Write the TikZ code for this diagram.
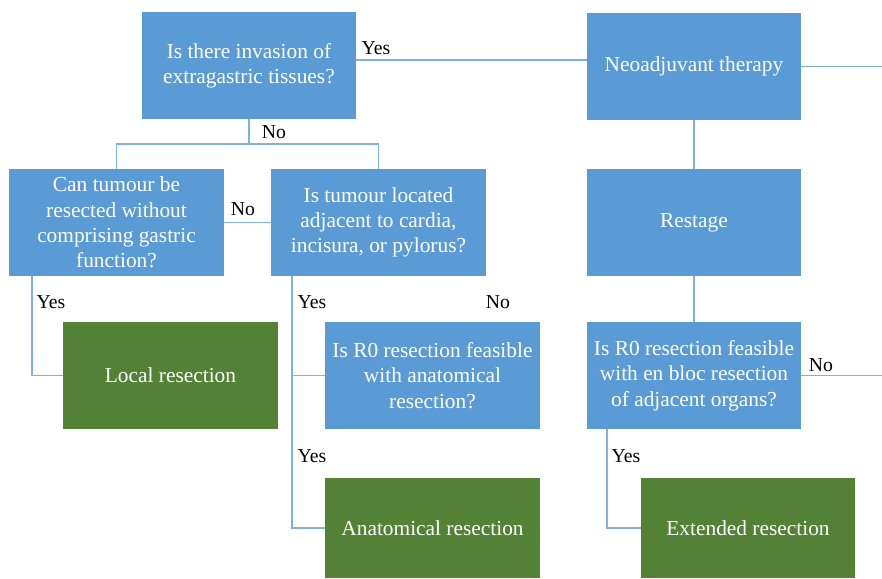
\documentclass[tikz,border=0pt]{standalone}
\usepackage{fontspec}
\setmainfont{Liberation Serif}
\usetikzlibrary{positioning}
\definecolor{boxblue}{HTML}{5B9BD5}
\definecolor{boxgreen}{HTML}{538135}
\definecolor{lineblue}{HTML}{7EB1E1}

\begin{document}
\begin{tikzpicture}[
        x=0.025cm, y=-0.025cm,
        question/.style={rectangle, fill=boxblue, text=white, align=center, inner sep=0pt,
            minimum width=5.35cm, minimum height=2.675cm, font=\fontsize{15.2}{18}\selectfont},
        outcome/.style={rectangle, fill=boxgreen, text=white, align=center, inner sep=0pt,
            minimum width=5.35cm, minimum height=2.675cm, font=\fontsize{15.2}{18}\selectfont},
        link/.style={draw=lineblue, line width=1pt},
        answer/.style={font=\fontsize{14}{16}\selectfont, inner sep=0pt}
    ]
        \useasboundingbox (0,0) rectangle (882,579);

        % boxes
        \node[question] (q1) at (249,65.5) {Is there invasion of\\extragastric tissues?};
        \node[question] (neo) at (694,66.5) {Neoadjuvant therapy};
        \node[question] (can) at (116.5,222.5) {Can tumour be\\resected without\\comprising gastric\\function?};
        \node[question] (loc) at (378.5,222.5) {Is tumour located\\adjacent to cardia,\\incisura, or pylorus?};
        \node[question] (restage) at (694,222.5) {Restage};
        \node[outcome] (local) at (170.5,375.5) {Local resection};
        \node[question] (r0a) at (432.5,375.5) {Is R0 resection feasible\\with anatomical\\resection?};
        \node[question] (enbloc) at (694,375.5) {Is R0 resection feasible\\with en bloc resection\\of adjacent organs?};
        \node[outcome, minimum height=2.5cm] (anat) at (432.5,528) {Anatomical resection};
        \node[outcome, minimum height=2.5cm] (ext) at (748,528) {Extended resection};

        % helper points
        \coordinate (yesrow) at (0,60);
        \coordinate (split) at (249,144);
        \coordinate (rt1) at (882,65);
        \coordinate (rt2) at (882,376);
        \coordinate (yx1) at (32,0);
        \coordinate (yx2) at (292,0);
        \coordinate (yx3) at (607,0);

        % connectors
        \draw[link] (q1.east |- yesrow) -- (neo.west |- yesrow);
        \draw[link] (neo.east) -- (neo.east -| rt1);
        \draw[link] (q1.south) -- (split);
        \draw[link] (can.north) |- (split) -| (loc.north);
        \draw[link] (can.east) -- (loc.west);
        \draw[link] (neo.south) -- (restage.north);
        \draw[link] (restage.south) -- (enbloc.north);
        \draw[link] (enbloc.east) -- (enbloc.east -| rt2);
        \draw[link] (can.south -| yx1) |- (local.west);
        \draw[link] (loc.south -| yx2) |- (anat.west);
        \draw[link] (r0a.west -| yx2) -- (r0a.west);
        \draw[link] (enbloc.south -| yx3) |- (ext.west);

        % answers
        \node[answer] (a1) at (376,48) {Yes};
        \node[answer] (a2) at (274,132) {No};
        \node[answer] (a3) at (243,209) {No};
        \node[answer] (a4) at (51,302) {Yes};
        \node[answer] (a5) at (312,302) {Yes};
        \node[answer] (a6) at (498,302) {No};
        \node[answer] (a7) at (312,456) {Yes};
        \node[answer] (a8) at (821,365) {No};
        \node[answer] (a9) at (626,456) {Yes};
    \end{tikzpicture}
\end{document}
